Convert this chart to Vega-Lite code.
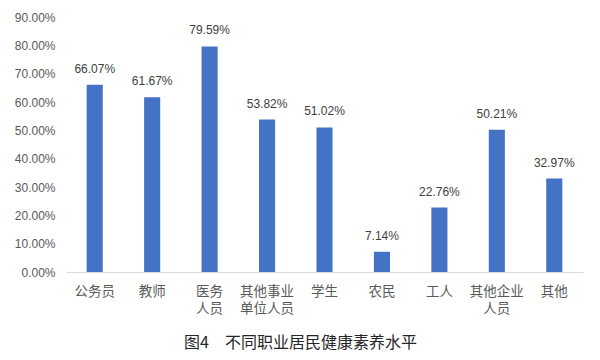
{
  "$schema": "https://vega.github.io/schema/vega-lite/v6.json",
  "autosize": {"type": "none"},
  "width": 517,
  "height": 255,
  "padding": {"left": 66, "top": 17, "right": 17, "bottom": 88},
  "background": "white",
  "config": {
    "view": {"stroke": null},
    "font": "Noto Sans CJK SC"
  },
  "title": {
    "text": "图4　不同职业居民健康素养水平",
    "orient": "bottom",
    "anchor": "middle",
    "fontSize": 16,
    "fontWeight": "normal",
    "color": "#262626",
    "font": "Noto Sans CJK SC",
    "offset": 20,
    "dx": -24
  },
  "data": {
    "values": [
      {"occupation": "公务员", "rate": 0.6607},
      {"occupation": "教师", "rate": 0.6167},
      {"occupation": "医务人员", "rate": 0.7959},
      {"occupation": "其他事业单位人员", "rate": 0.5382},
      {"occupation": "学生", "rate": 0.5102},
      {"occupation": "农民", "rate": 0.0714},
      {"occupation": "工人", "rate": 0.2276},
      {"occupation": "其他企业人员", "rate": 0.5021},
      {"occupation": "其他", "rate": 0.3297}
    ]
  },
  "encoding": {
    "x": {
      "field": "occupation",
      "type": "nominal",
      "sort": null,
      "scale": {"paddingInner": 0.72, "paddingOuter": 0.36},
      "axis": {
        "title": null,
        "labelAngle": 0,
        "ticks": false,
        "domainColor": "#d9d9d9",
        "domainWidth": 1,
        "labelColor": "#595959",
        "labelFontSize": 13.5,
        "labelFont": "Noto Sans CJK SC",
        "labelPadding": 12,
        "labelLineHeight": 17,
        "labelBaseline": "top",
        "labelExpr": "datum.value == '医务人员' ? ['医务','人员'] : datum.value == '其他事业单位人员' ? ['其他事业','单位人员'] : datum.value == '其他企业人员' ? ['其他企业','人员'] : datum.value"
      }
    },
    "y": {
      "field": "rate",
      "type": "quantitative",
      "scale": {"domain": [0, 0.9]},
      "axis": {
        "title": null,
        "format": ".2%",
        "values": [0, 0.1, 0.2, 0.3, 0.4, 0.5, 0.6, 0.7, 0.8, 0.9],
        "grid": false,
        "domain": false,
        "ticks": false,
        "labelColor": "#595959",
        "labelFontSize": 12,
        "labelFont": "Liberation Sans",
        "labelPadding": 11
      }
    }
  },
  "layer": [
    {"mark": {"type": "bar", "color": "#4472C4"}},
    {
      "mark": {"type": "text", "baseline": "middle", "dy": -16, "fontSize": 12, "font": "Liberation Sans", "color": "#404040"},
      "encoding": {"text": {"field": "rate", "type": "quantitative", "format": ".2%"}}
    }
  ]
}
